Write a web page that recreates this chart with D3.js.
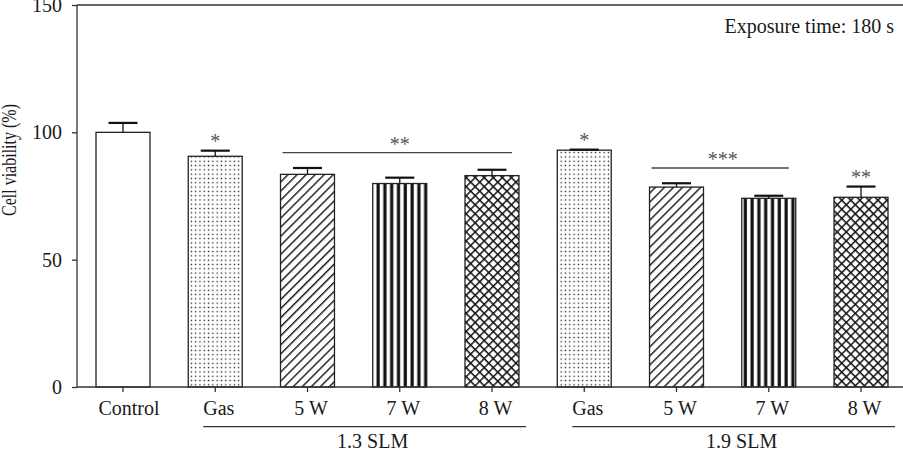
<!DOCTYPE html>
<html>
<head>
<meta charset="utf-8">
<script src="https://cdn.jsdelivr.net/npm/d3@7"></script>
<style>
  html, body { margin: 0; padding: 0; background: #fff; }
  svg { display: block; }
  text { font-family: "Liberation Serif", "Times New Roman", serif; fill: #1a1a1a; }
</style>
</head>
<body>
<svg id="chart" width="903" height="457"></svg>
<script>
// Cell viability after plasma exposure (180 s)
const categories = ["Control", "Gas", "5 W", "7 W", "8 W", "Gas", "5 W", "7 W", "8 W"];
const means      = [100, 90.6, 83.5, 79.9, 83.0, 93.0, 78.5, 74.1, 74.5];
const errors     = [3.7, 2.2, 2.5, 2.3, 2.3, 0.2, 1.5, 1.0, 4.2];
const fills      = ["none", "dots", "diag", "vert", "cross", "dots", "diag", "vert", "cross"];
const yTicks     = [0, 50, 100, 150];

// Flow-rate groups under the axis: first and last bar index
const groups = [
  { label: "1.3 SLM", from: 1, to: 4 },
  { label: "1.9 SLM", from: 5, to: 8 }
];
// Significance marks above single bars
const singleMarks = [
  { bar: 1, stars: "*" },
  { bar: 5, stars: "*" },
  { bar: 8, stars: "**" }
];
// Significance brackets spanning several bars (y in % units)
const bracketMarks = [
  { from: 2, to: 4, y: 92.0, stars: "**" },
  { from: 6, to: 7, y: 86.0, stars: "***" }
];
const note = "Exposure time: 180 s";
const yTitle = "Cell viability (%)";

const svg = d3.select("#chart");
const plotLeft = 77, plotRight = 907, plotTop = 5, plotBottom = 387;

const idx = categories.map((_, i) => i);
const x = d3.scaleBand().domain(idx).range([plotLeft, plotRight])
  .paddingInner(0.415).paddingOuter(0.206);
const y = d3.scaleLinear().domain([0, 150]).range([plotBottom, plotTop]);
const cx = i => x(i) + x.bandwidth() / 2;

// Fill patterns
const defs = svg.append("defs");
const pDots = defs.append("pattern").attr("id", "dots").attr("patternUnits", "userSpaceOnUse")
  .attr("width", 4.3).attr("height", 4.3);
pDots.append("rect").attr("x", 1.5).attr("y", 1.5).attr("width", 1.3).attr("height", 1.3).attr("fill", "#111");

const pDiag = defs.append("pattern").attr("id", "diag").attr("patternUnits", "userSpaceOnUse")
  .attr("width", 6.4).attr("height", 10).attr("patternTransform", "rotate(45)");
pDiag.append("rect").attr("x", 0).attr("y", 0).attr("width", 1.4).attr("height", 10).attr("fill", "#111");

const pVert = defs.append("pattern").attr("id", "vert").attr("patternUnits", "userSpaceOnUse")
  .attr("width", 6.8).attr("height", 10).attr("x", 0);
pVert.append("rect").attr("x", 2.5).attr("y", 0).attr("width", 3.2).attr("height", 10).attr("fill", "#111");

const pCross = defs.append("pattern").attr("id", "cross").attr("patternUnits", "userSpaceOnUse")
  .attr("width", 6.4).attr("height", 6.4).attr("patternTransform", "rotate(45)");
pCross.append("rect").attr("x", 0).attr("y", 0).attr("width", 1.5).attr("height", 6.4).attr("fill", "#111");
pCross.append("rect").attr("x", 0).attr("y", 0).attr("width", 6.4).attr("height", 1.5).attr("fill", "#111");

// Frame (top and right edges)
svg.append("path")
  .attr("d", `M${plotLeft},${plotTop}H${plotRight}V${plotBottom}`)
  .attr("fill", "none").attr("stroke", "#333").attr("stroke-width", 1.3);

// Bars
svg.append("g").selectAll("rect").data(idx).join("rect")
  .attr("x", i => x(i))
  .attr("y", i => y(means[i]))
  .attr("width", x.bandwidth())
  .attr("height", i => y(0) - y(means[i]))
  .attr("fill", i => fills[i] === "none" ? "#fff" : `url(#${fills[i]})`)
  .attr("stroke", "#222").attr("stroke-width", 1.3);

// Error bars (upper whisker only)
const capHalf = 14.5;
const eb = svg.append("g").attr("stroke", "#111");
eb.selectAll("line.stem").data(idx).join("line").attr("class", "stem")
  .attr("x1", cx).attr("x2", cx)
  .attr("y1", i => y(means[i])).attr("y2", i => y(means[i] + errors[i]))
  .attr("stroke-width", 1.3);
eb.selectAll("line.cap").data(idx).join("line").attr("class", "cap")
  .attr("x1", i => cx(i) - capHalf).attr("x2", i => cx(i) + capHalf)
  .attr("y1", i => y(means[i] + errors[i])).attr("y2", i => y(means[i] + errors[i]))
  .attr("stroke-width", 2.2);

// Axes
const yAxis = svg.append("g").attr("transform", `translate(${plotLeft},0)`)
  .call(d3.axisLeft(y).tickValues(yTicks).tickSize(5).tickPadding(10).tickSizeOuter(0));
const xAxis = svg.append("g").attr("transform", `translate(0,${plotBottom})`)
  .call(d3.axisBottom(x).tickFormat(i => categories[i]).tickSize(5).tickPadding(9).tickSizeOuter(0));
[yAxis, xAxis].forEach(g => {
  g.select(".domain").attr("stroke", "#333").attr("stroke-width", 1.3);
  g.selectAll(".tick line").attr("stroke", "#333").attr("stroke-width", 1.3);
  g.selectAll(".tick text").attr("font-size", 20).attr("fill", "#1a1a1a")
    .attr("font-family", '"Liberation Serif", serif');
});
xAxis.selectAll(".tick text").attr("dx", i => i === 0 ? 6 : 3.5);
// x axis line runs the full plot width
xAxis.select(".domain").attr("d", `M${plotLeft},0H${plotRight}`);
yAxis.select(".domain").attr("d", `M0,${plotTop}V${plotBottom}`);

// Group underlines and labels
const gg = svg.append("g");
groups.forEach(g => {
  const x1 = cx(g.from) - 12, x2 = cx(g.to) + 34;
  gg.append("line").attr("x1", x1).attr("x2", x2).attr("y1", 426.7).attr("y2", 426.7)
    .attr("stroke", "#333").attr("stroke-width", 1.3);
  gg.append("text").attr("x", (x1 + x2) / 2 + 8).attr("y", 448)
    .attr("text-anchor", "middle").attr("font-size", 20).text(g.label);
});

// Significance stars
const starColor = "#555";
singleMarks.forEach(m => {
  const yc = y(means[m.bar] + errors[m.bar]) - 13.5;
  svg.append("text").attr("x", cx(m.bar)).attr("y", yc + 11)
    .attr("text-anchor", "middle").attr("font-size", 20)
    .style("fill", starColor).text(m.stars);
});
bracketMarks.forEach(b => {
  const x1 = x(b.from) + 2, x2 = x(b.to) + x.bandwidth() - 7;
  svg.append("line").attr("x1", x1).attr("x2", x2).attr("y1", y(b.y)).attr("y2", y(b.y))
    .attr("stroke", "#444").attr("stroke-width", 1.3);
  svg.append("text").attr("x", (cx(b.from) + cx(b.to)) / 2).attr("y", y(b.y) - 13 + 11)
    .attr("text-anchor", "middle").attr("font-size", 20)
    .style("fill", starColor).text(b.stars);
});

// Exposure note
svg.append("text").attr("x", 894).attr("y", 33).attr("text-anchor", "end")
  .attr("font-size", 20).text(note);

// Y axis title
svg.append("text")
  .attr("transform", "translate(16,160) rotate(-90)")
  .attr("text-anchor", "middle").attr("font-size", 20)
  .attr("textLength", 112).attr("lengthAdjust", "spacingAndGlyphs")
  .text(yTitle);
</script>
</body>
</html>
